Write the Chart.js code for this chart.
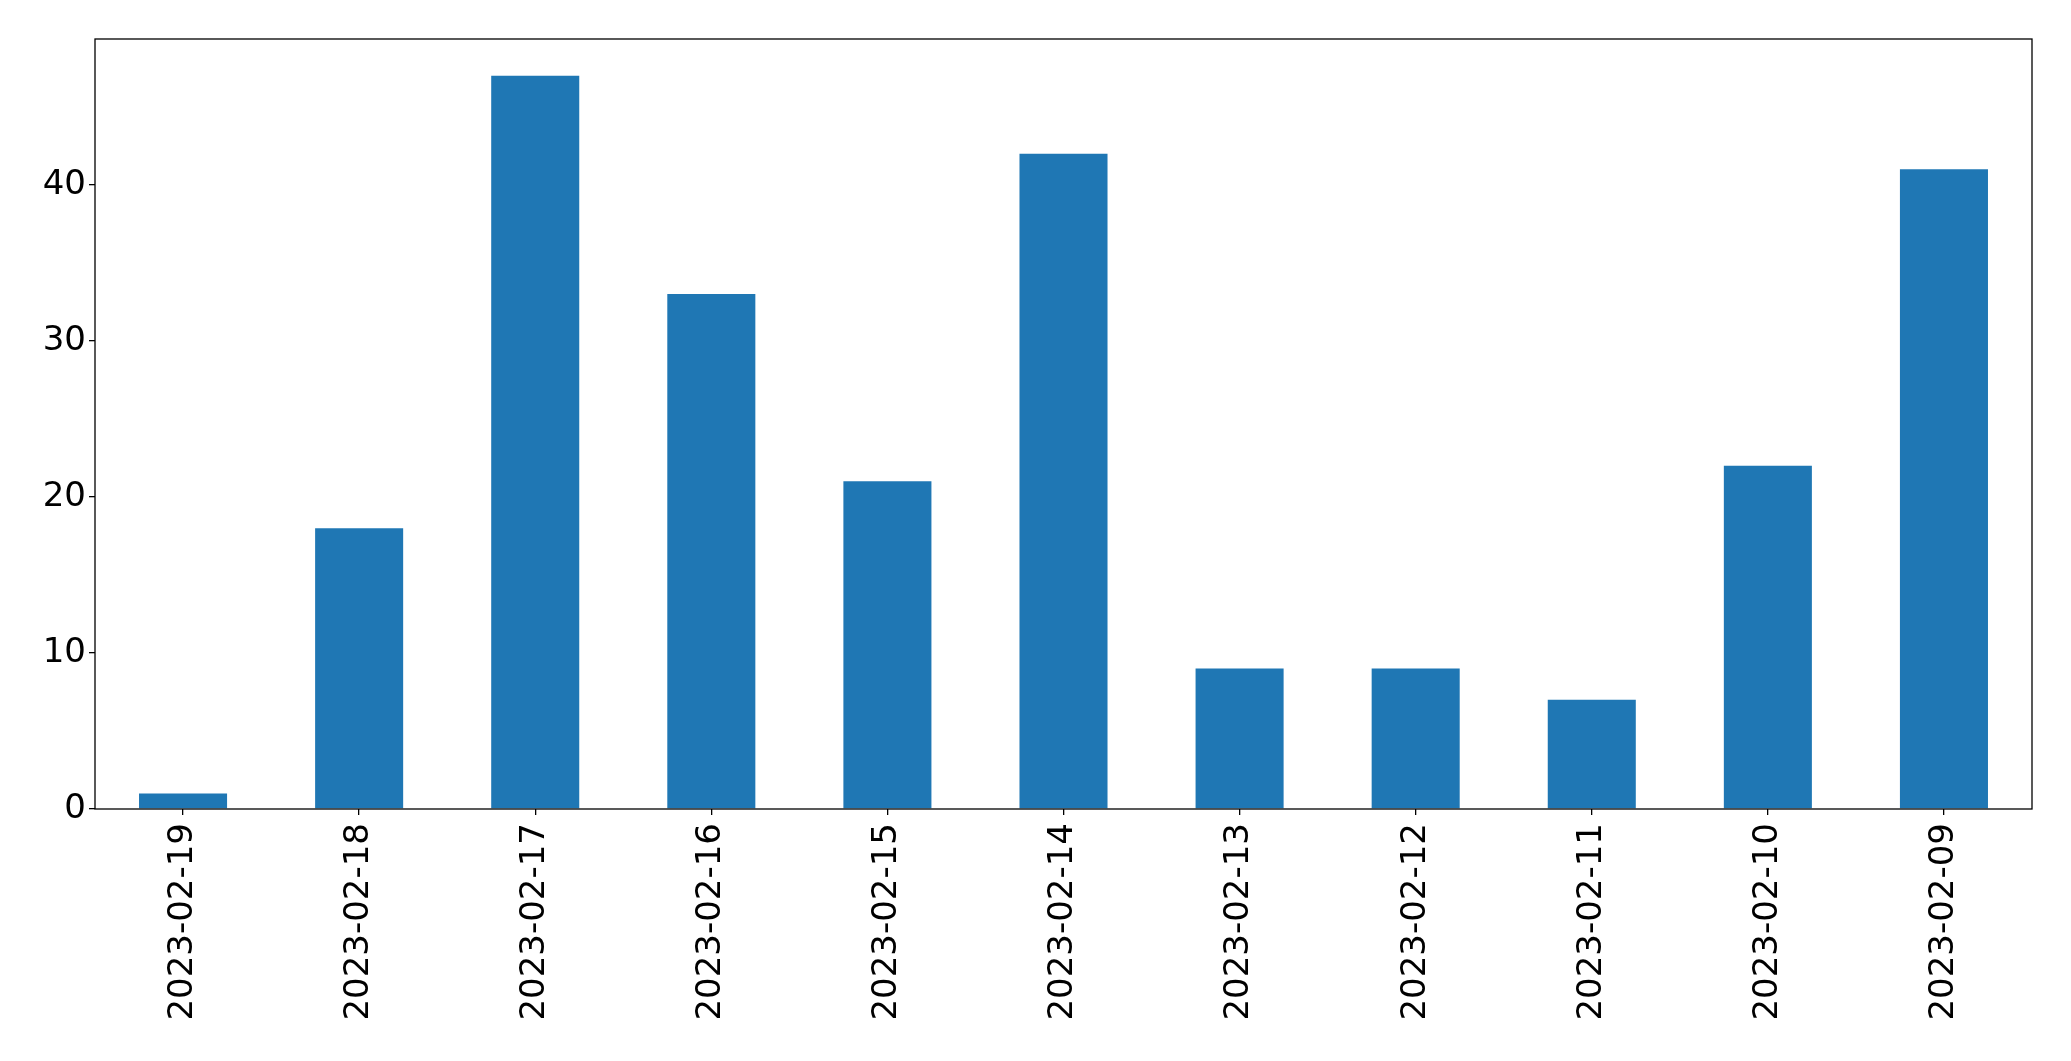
<!DOCTYPE html>
<html>
<head>
<meta charset="utf-8">
<script src="https://cdn.jsdelivr.net/npm/chart.js@4"></script>
<style>
  html, body { margin: 0; padding: 0; background: #fff; }
  canvas { display: block; }
</style>
</head>
<body>
<canvas id="chart" width="2071" height="1061"></canvas>
<script>
"use strict";
const dates = ['2023-02-19', '2023-02-18', '2023-02-17', '2023-02-16', '2023-02-15', '2023-02-14',
    '2023-02-13', '2023-02-12', '2023-02-11', '2023-02-10', '2023-02-09'];
const counts = [1, 18, 47, 33, 21, 42, 9, 9, 7, 22, 41];
const yTicks = [0, 10, 20, 30, 40];

const canvas = document.getElementById('chart');
const ctx = canvas.getContext('2d');

// draws the box round the plot area, like matplotlib's spines
const frame = {
    id: 'frame',
    afterDraw(chart) {
        const a = chart.chartArea;
        const c = chart.ctx;
        c.save();
        c.strokeStyle = '#000';
        c.lineWidth = 1.3;
        c.strokeRect(a.left, a.top, a.right - a.left, a.bottom - a.top);
        c.restore();
    }
};

const tickFont = { family: 'DejaVu Sans', size: 34 };

new Chart(ctx, {
    type: 'bar',
    data: {
        labels: dates,
        datasets: [{
            data: counts,
            backgroundColor: '#1f77b4',
            borderWidth: 0,
            barPercentage: 0.5,
            categoryPercentage: 1.0
        }]
    },
    options: {
        responsive: false,
        animation: false,
        layout: { padding: { left: 0, right: 39, top: 39, bottom: 0 } },
        plugins: {
            legend: { display: false },
            tooltip: { enabled: false }
        },
        scales: {
            x: {
                offset: true,
                border: { display: false },
                grid: { display: true, drawOnChartArea: false, drawTicks: true, tickLength: 6, color: '#000', lineWidth: 1.3, offset: false },
                ticks: { color: '#000', font: tickFont, minRotation: 90, maxRotation: 90, padding: 8, autoSkip: false },
                afterFit(scale) { scale.height = 252; }
            },
            y: {
                min: 0,
                max: 49.35,
                border: { display: false },
                grid: { display: true, drawOnChartArea: false, drawTicks: true, tickLength: 6, color: '#000', lineWidth: 1.3 },
                ticks: { color: '#000', font: tickFont, padding: 3 },
                afterBuildTicks(scale) { scale.ticks = yTicks.map(v => ({ value: v })); },
                afterFit(scale) { scale.width = 95; }
            }
        }
    },
    plugins: [frame]
});
</script>
</body>
</html>
